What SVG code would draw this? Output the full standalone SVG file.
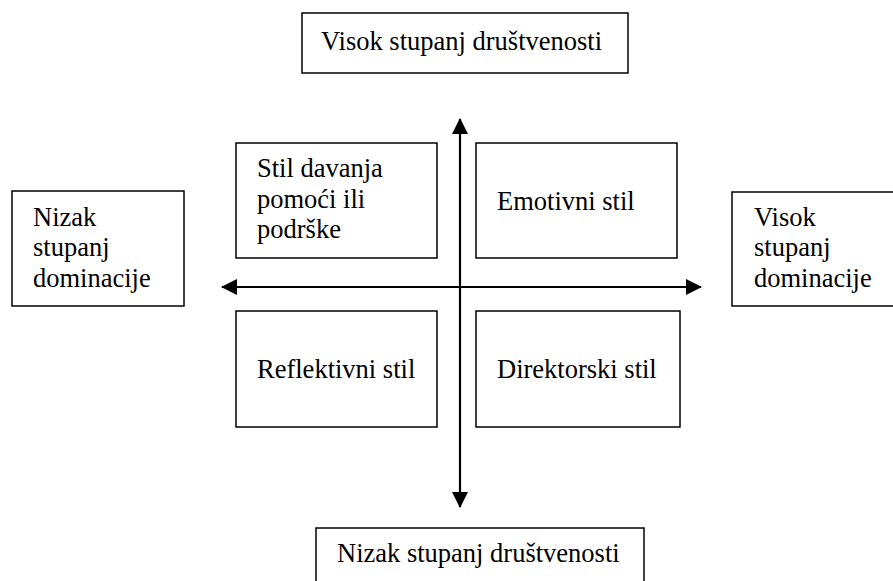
<svg xmlns="http://www.w3.org/2000/svg" width="893" height="581" viewBox="0 0 893 581">
<style>
.box{fill:#fff;stroke:#000;stroke-width:1.5}
.t{font-family:"Liberation Serif","Times New Roman",serif;font-size:26.5px;fill:#000}
.ax{stroke:#000;stroke-width:2.2;fill:none}
</style>
<defs>
<marker id="ah" viewBox="0 0 16 16" refX="15" refY="8" markerWidth="16" markerHeight="16" markerUnits="userSpaceOnUse" orient="auto">
<path d="M0,0 L16,8 L0,16 Z" fill="#000"/>
</marker>
</defs>
<rect width="893" height="581" fill="#fff"/>
<g id="connectors">
<line class="ax" x1="460" y1="288" x2="460" y2="119" marker-end="url(#ah)"/>
<line class="ax" x1="460" y1="288" x2="460" y2="507" marker-end="url(#ah)"/>
<line class="ax" x1="460" y1="287" x2="222" y2="287" marker-end="url(#ah)"/>
<line class="ax" x1="460" y1="287" x2="701" y2="287" marker-end="url(#ah)"/>
</g>
<g id="top">
<rect class="box" x="302" y="13" width="326" height="60"/>
<text class="t" x="321" y="50">Visok stupanj društvenosti</text>
</g>
<g id="bottom">
<rect class="box" x="316" y="528" width="328" height="60"/>
<text class="t" x="337" y="562">Nizak stupanj društvenosti</text>
</g>
<g id="left">
<rect class="box" x="12" y="191" width="172" height="115"/>
<text class="t" x="33" y="226">Nizak</text>
<text class="t" x="33" y="256">stupanj</text>
<text class="t" x="33" y="287">dominacije</text>
</g>
<g id="right">
<rect class="box" x="732" y="192" width="170" height="114"/>
<text class="t" x="754" y="226">Visok</text>
<text class="t" x="754" y="256">stupanj</text>
<text class="t" x="754" y="287">dominacije</text>
</g>
<g id="q-tl">
<rect class="box" x="236" y="143" width="201" height="115"/>
<text class="t" x="257" y="177">Stil davanja</text>
<text class="t" x="257" y="208">pomoći ili</text>
<text class="t" x="257" y="238">podrške</text>
</g>
<g id="q-tr">
<rect class="box" x="476" y="143" width="201" height="115"/>
<text class="t" x="497" y="210">Emotivni stil</text>
</g>
<g id="q-bl">
<rect class="box" x="236" y="311" width="201" height="116"/>
<text class="t" x="257" y="378">Reflektivni stil</text>
</g>
<g id="q-br">
<rect class="box" x="476" y="311" width="204" height="116"/>
<text class="t" x="497" y="378">Direktorski stil</text>
</g>
</svg>
